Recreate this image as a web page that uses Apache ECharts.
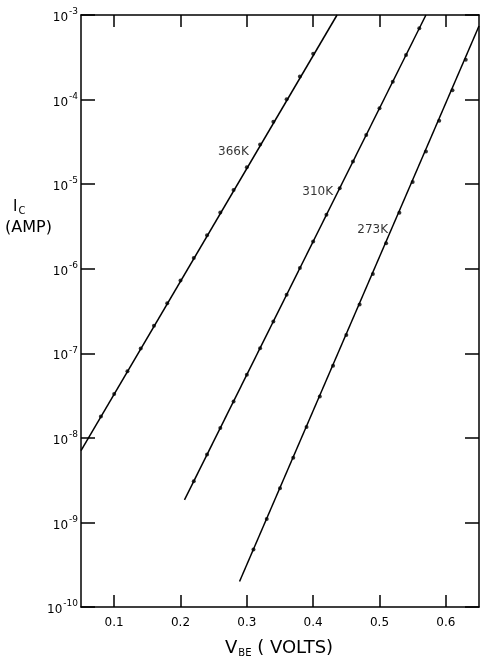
<!DOCTYPE html>
<html>
<head>
<meta charset="utf-8">
<script src="https://cdn.jsdelivr.net/npm/echarts@6/dist/echarts.min.js"></script>
<style>
html,body{margin:0;padding:0;background:#fff;}
#c{width:481px;height:659px;}
</style>
</head>
<body>
<div id="c"></div>
<script>
// ---- data ----
const xTicks = [0.1, 0.2, 0.3, 0.4, 0.5, 0.6];
const yTicks = [1e-10, 1e-9, 1e-8, 1e-7, 1e-6, 1e-5, 1e-4, 1e-3];

// measured points (V_BE volts, I_C amps)
const pts366 = [
  [0.08, 1.79e-8], [0.10, 3.31e-8], [0.12, 6.14e-8], [0.14, 1.14e-7], [0.16, 2.11e-7],
  [0.18, 3.91e-7], [0.20, 7.24e-7], [0.22, 1.34e-6], [0.24, 2.49e-6], [0.26, 4.61e-6],
  [0.28, 8.55e-6], [0.30, 1.58e-5], [0.32, 2.94e-5], [0.34, 5.45e-5], [0.36, 1.01e-4],
  [0.38, 1.87e-4], [0.40, 3.47e-4]
];
const pts310 = [
  [0.22, 3.07e-9], [0.24, 6.34e-9], [0.26, 1.31e-8], [0.28, 2.70e-8], [0.30, 5.58e-8],
  [0.32, 1.15e-7], [0.34, 2.38e-7], [0.36, 4.92e-7], [0.38, 1.02e-6], [0.40, 2.10e-6],
  [0.42, 4.34e-6], [0.44, 8.95e-6], [0.46, 1.85e-5], [0.48, 3.82e-5], [0.50, 7.89e-5],
  [0.52, 1.63e-4], [0.54, 3.37e-4], [0.56, 6.95e-4]
];
const pts273 = [
  [0.31, 4.79e-10], [0.33, 1.10e-9], [0.35, 2.54e-9], [0.37, 5.83e-9], [0.39, 1.34e-8],
  [0.41, 3.09e-8], [0.43, 7.11e-8], [0.45, 1.64e-7], [0.47, 3.77e-7], [0.49, 8.67e-7],
  [0.51, 2.00e-6], [0.53, 4.59e-6], [0.55, 1.06e-5], [0.57, 2.43e-5], [0.59, 5.60e-5],
  [0.61, 1.29e-4], [0.63, 2.96e-4]
];
// fitted straight lines (end points)
const line366 = [[0.05, 7.08e-9], [0.436, 1e-3]];
const line310 = [[0.206, 1.85e-9], [0.570, 1e-3]];
const line273 = [[0.289, 2.0e-10], [0.65, 7.4e-4]];

// curve labels and where they sit on the lines
const curveNames = ['366K', '310K', '273K'];
const labelAnchors = [[0.309, 2.4e-5], [0.436, 8.2e-6], [0.519, 2.9e-6]];

// ---- chart ----
const FONT = 'DejaVu Sans';
const chart = echarts.init(document.getElementById('c'), null, {renderer: 'canvas'});

function lineSeries(d) {
  return {type: 'line', data: d, symbol: 'none', silent: true, animation: false,
    lineStyle: {color: '#000', width: 1.5}, z: 3};
}
function dotSeries(d) {
  return {type: 'scatter', data: d, symbol: 'circle', symbolSize: 4, silent: true,
    animation: false, itemStyle: {color: '#000'}, z: 4};
}

const axisLineStyle = {show: true, lineStyle: {color: '#000', width: 1.5}};
const tickStyle = {lineStyle: {color: '#000', width: 1.5}};

const option = {
  backgroundColor: '#fff',
  animation: false,
  grid: {left: 81, right: 2, top: 15, bottom: 52, containLabel: false},
  xAxis: [
    {type: 'value', min: 0.05, max: 0.65, position: 'bottom',
      axisLine: axisLineStyle,
      axisTick: Object.assign({show: true, inside: true, length: 12, customValues: xTicks}, tickStyle),
      axisLabel: {show: true, customValues: xTicks, margin: 10, color: '#000',
        fontFamily: FONT, fontSize: 12, formatter: v => v.toFixed(1)},
      splitLine: {show: false}},
    {type: 'value', min: 0.05, max: 0.65, position: 'top',
      axisLine: axisLineStyle,
      axisTick: Object.assign({show: true, inside: true, length: 12, customValues: xTicks}, tickStyle),
      axisLabel: {show: false},
      splitLine: {show: false}}
  ],
  yAxis: [
    {type: 'log', logBase: 10, min: 1e-10, max: 1e-3, position: 'left',
      axisLine: axisLineStyle,
      axisTick: Object.assign({show: true, inside: true, length: 14, customValues: yTicks}, tickStyle),
      axisLabel: {show: true, customValues: yTicks, margin: 3, color: '#000',
        fontFamily: FONT,
        formatter: v => '{b|10}{s|' + Math.round(Math.log10(v)) + '}',
        rich: {
          b: {fontFamily: FONT, fontSize: 12, color: '#000', padding: [6, 0, 0, 0]},
          s: {fontFamily: FONT, fontSize: 9, color: '#000', padding: [0, 0, 6, 1]}
        }},
      splitLine: {show: false}},
    {type: 'log', logBase: 10, min: 1e-10, max: 1e-3, position: 'right',
      axisLine: axisLineStyle,
      axisTick: Object.assign({show: true, inside: true, length: 14, customValues: yTicks}, tickStyle),
      axisLabel: {show: false},
      splitLine: {show: false}}
  ],
  series: [
    lineSeries(line366), lineSeries(line310), lineSeries(line273),
    dotSeries(pts366), dotSeries(pts310), dotSeries(pts273),
    {type: 'scatter', symbolSize: 0, silent: true, z: 5,
      data: labelAnchors.map((p, i) => ({value: p, name: curveNames[i]})),
      label: {show: true, position: 'left', distance: 4, formatter: p => p.name,
        color: '#000', fontFamily: FONT, fontSize: 12}}
  ],
  graphic: [
    {type: 'text', left: 13, top: 200, style: {text: '{b|I}{s|C}', rich: {
      b: {fontFamily: FONT, fontSize: 15, fill: '#000'},
      s: {fontFamily: FONT, fontSize: 10, fill: '#000', padding: [8, 0, 0, 1]}}}},
    {type: 'text', left: 5, top: 220, style: {text: '(AMP)', fontFamily: FONT, fontSize: 16, fill: '#000'}},
    {type: 'text', left: 225, top: 639, style: {text: '{b|V}{s|BE}{b| ( VOLTS)}', rich: {
      b: {fontFamily: FONT, fontSize: 18, fill: '#000'},
      s: {fontFamily: FONT, fontSize: 10, fill: '#000', padding: [10, 0, 0, 1]}}}}
  ]
};
chart.setOption(option);
</script>
</body>
</html>
